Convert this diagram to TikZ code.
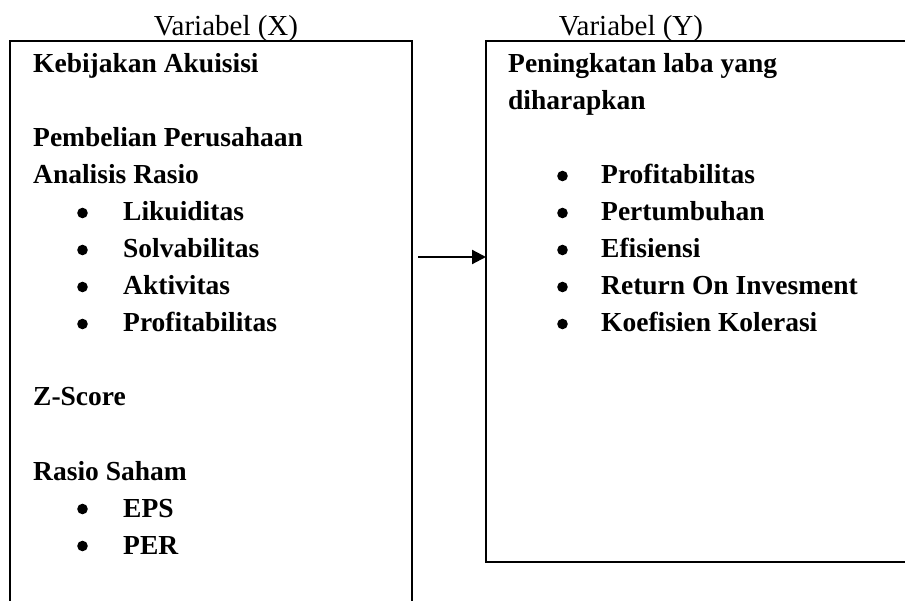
\documentclass[tikz,border=0pt]{standalone}
\usepackage{fontspec}
\setmainfont{Liberation Serif}
\usetikzlibrary{arrows.meta}
\newcommand{\butir}[1]{\makebox[#1][l]{\tikz[baseline=-8pt]\fill (0pt,0pt) circle (5.3pt);}}
\begin{document}
\begin{tikzpicture}[x=1pt,y=-1pt,
        garis/.style={line width=2.6pt},
        judul/.style={anchor=base,inner sep=0pt,font=\fontsize{29}{34}\selectfont},
        isi/.style={anchor=base west,inner sep=0pt,font=\fontsize{27.5}{33}\selectfont\bfseries}]
        \useasboundingbox (0,0) rectangle (905,601);
        % kotak variabel X (terbuka di bawah)
        \draw[garis] (10,601) -- (10,41) -- (412,41) -- (412,601);
        % kotak variabel Y (terbuka di kanan)
        \draw[garis] (905,41) -- (486,41) -- (486,562) -- (905,562);
        \node[judul] (judulx) at (226,36) {Variabel (X)};
        \node[judul] (juduly) at (631,36) {Variabel (Y)};
        % isi variabel X
        \node[isi] (akuisisi) at (33,73) {Kebijakan Akuisisi};
        \node[isi] (pembelian) at (33,147) {Pembelian Perusahaan};
        \node[isi] (rasio) at (33,184) {Analisis Rasio};
        \node[isi] (likuid) at (77,221) {\butir{46pt}Likuiditas};
        \node[isi] (solva) at (77,258) {\butir{46pt}Solvabilitas};
        \node[isi] (aktiv) at (77,295) {\butir{46pt}Aktivitas};
        \node[isi] (profitx) at (77,332) {\butir{46pt}Profitabilitas};
        \node[isi] (zscore) at (33,406) {Z-Score};
        \node[isi] (saham) at (33,480) {Rasio Saham};
        \node[isi] (eps) at (77,517) {\butir{46pt}EPS};
        \node[isi] (per) at (77,554) {\butir{46pt}PER};
        % isi variabel Y
        \node[isi] (laba) at (508,73) {Peningkatan laba yang};
        \node[isi] (harap) at (508,110) {diharapkan};
        \node[isi] (profity) at (557,184) {\butir{44pt}Profitabilitas};
        \node[isi] (tumbuh) at (557,221) {\butir{44pt}Pertumbuhan};
        \node[isi] (efisien) at (557,258) {\butir{44pt}Efisiensi};
        \node[isi] (roi) at (557,295) {\butir{44pt}Return On Invesment};
        \node[isi] (korelasi) at (557,332) {\butir{44pt}Koefisien Kolerasi};
        % panah X ke Y
        \coordinate (pangkal) at (418,257);
        \coordinate (ujung) at (486,257);
        \draw[garis, line width=2.2pt, -{Triangle[length=14pt,width=14pt]}] (pangkal) -- (ujung);
\end{tikzpicture}
\end{document}
